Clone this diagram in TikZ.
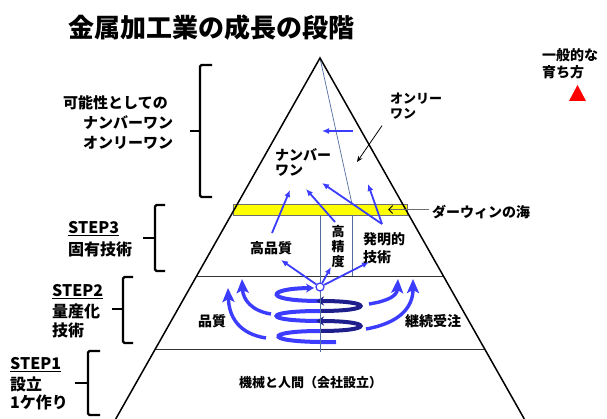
\documentclass[tikz,border=0pt]{standalone}
\usepackage{fontspec}
\setmainfont{Noto Sans CJK JP}
\usetikzlibrary{arrows.meta}
\definecolor{arrblue}{RGB}{60,60,255}
\definecolor{navytwo}{RGB}{30,30,140}
\definecolor{steel}{RGB}{80,110,160}
\definecolor{bandyellow}{RGB}{255,255,0}
\definecolor{bandgray}{RGB}{110,110,110}
\tikzset{
 lbl/.style={inner sep=0pt, anchor=west, font=\fontsize{14}{14}\selectfont\bfseries},
 lblsm/.style={inner sep=0pt, anchor=west, font=\fontsize{13}{13}\selectfont\bfseries},
 sidelbl/.style={inner sep=0pt, anchor=west, font=\fontsize{16}{16}\selectfont\bfseries},
 toplbl/.style={inner sep=0pt, anchor=west, font=\fontsize{15}{15}\selectfont\bfseries},
 brk/.style={line width=2.2pt, rounded corners=1.5pt},
 bluearr/.style={arrblue, line width=1.8pt, -{Latex[length=7pt,width=6pt]}},
 bigarr/.style={arrblue, line width=3.4pt, -{Stealth[length=14pt,width=12pt,inset=3pt]}},
 front/.style={arrblue, line width=4pt},
 back/.style={navytwo, line width=4pt},
 frontarr/.style={front, -{Stealth[length=8pt,width=9pt]}},
 backarr/.style={back, -{Stealth[length=8pt,width=9pt]}},
}
\begin{document}
\begin{tikzpicture}[x=1pt,y=-1pt]
\useasboundingbox (0,0) rectangle (607,419);
\clip (0,0) rectangle (607,419);
\fill[white] (0,0) rectangle (607,419);

% key coordinates
\coordinate (apex) at (320,58);
\coordinate (bl) at (112.3,425);
\coordinate (br) at (527.7,425);

% yellow band
\filldraw[fill=bandyellow, draw=bandgray, line width=0.8pt] (233,204) rectangle (407,215);

% inner lines
\draw[line width=0.8pt, black!80] (196.6,276) -- (443.4,276);
\draw[line width=0.8pt, black!80] (155.3,349) -- (484.7,349);
\draw[steel, line width=0.7pt] (apex) -- (352,204);
\draw[steel, line width=0.7pt] (352,215) -- (352,276);

% pyramid
\draw[line width=1.5pt] (bl) -- (apex) -- (br);

% spiral (rising coil)
\draw[front] (336,342) .. controls (262,343) and (262,331) .. (320,331);
\draw[front] (320,321) .. controls (262,321) and (262,311) .. (320,311);
\draw[frontarr] (320,301) .. controls (262,301) and (266,288.5) .. (314,288);
\draw[backarr] (320,331) .. controls (374,331) and (374,321) .. (316,321);
\draw[backarr] (320,311) .. controls (374,311) and (374,301) .. (316,301);

% side curved arrows
\draw[bigarr] (266,338) .. controls (240,334) and (229,318) .. (228,288);
\draw[bigarr] (271,314) .. controls (252,311) and (243,300) .. (242,279);
\draw[bigarr] (369,304) .. controls (388,301) and (397,296) .. (398,279);
\draw[bigarr] (366,329) .. controls (400,323) and (413,307) .. (413,279);

\draw[steel, line width=0.7pt] (320,215) -- (320,352);

% center circle and arrows from it
\coordinate (hqtip) at (281,260);
\coordinate (prtip) at (331,267);
\coordinate (ivtip) at (369,262);
\node[circle, draw=arrblue, fill=white, line width=1.2pt, minimum size=8pt, inner sep=0pt] (core) at (320,287) {};
\draw[bluearr] (core) -- (hqtip);
\draw[bluearr] (core) -- (prtip);
\draw[bluearr] (core) -- (ivtip);

% arrows up into top
\coordinate (a1s) at (272,233);
\coordinate (a1e) at (290,190);
\coordinate (a2s) at (335,222);
\coordinate (a2e) at (306,189);
\coordinate (a3s) at (382,224);
\coordinate (a3e) at (322,183);
\coordinate (a4e) at (368,184);
\coordinate (t1s) at (353,131);
\coordinate (t1e) at (322,131);
\draw[bluearr] (a1s) -- (a1e);
\draw[bluearr] (a2s) -- (a2e);
\draw[bluearr] (a3s) -- (a3e);
\draw[bluearr] (a3s) -- (a4e);
\draw[bluearr] (t1s) -- (t1e);

% title
\node[inner sep=0pt, anchor=west, font=\fontsize{26}{26}\selectfont\bfseries] (title) at (68,28) {金属加工業の成長の段階};

% general way
\node[lbl] (gen1) at (542,55) {一般的な};
\node[lbl] (gen2) at (542,72) {育ち方};
\fill[red] (569,101) -- (577.5,85) -- (586,101) -- cycle;

% top left
\node[toplbl] (pos1) at (63,103) {可能性としての};
\node[toplbl] (pos2) at (83,123) {ナンバーワン};
\node[toplbl] (pos3) at (83,143) {オンリーワン};
\draw[brk] (212,65) -- (200,65) -- (200,197) -- (212,197);
\draw[brk] (190,131) -- (200,131);

% steps
\node[sidelbl] (s3a) at (68,229) {\underline{STEP3}};
\node[sidelbl] (s3b) at (68,249) {固有技術};
\draw[brk] (165,205) -- (155,205) -- (155,271) -- (165,271);
\draw[brk] (143,238) -- (155,238);

\node[sidelbl] (s2a) at (52,292) {\underline{STEP2}};
\node[sidelbl] (s2b) at (52,311) {量産化};
\node[sidelbl] (s2c) at (52,330) {技術};
\draw[brk] (133,277) -- (123,277) -- (123,343) -- (133,343);
\draw[brk] (112,309) -- (123,309);

\node[sidelbl] (s1a) at (10,365) {\underline{STEP1}};
\node[sidelbl] (s1b) at (10,384) {設立};
\node[sidelbl] (s1c) at (10,402) {1ケ作り};
\draw[brk] (100,351) -- (88,351) -- (88,415) -- (100,415);
\draw[brk] (75,383) -- (88,383);

% pyramid labels
\node[lblsm] (only1) at (390,99) {オンリー};
\node[lblsm] (only2) at (390,114) {ワン};
\coordinate (onlytip) at (357,162);
\draw[line width=0.8pt, -{Stealth[length=6pt,width=5pt]}] (only2.south west) ++(-8,6) -- (onlytip);

\node[lbl] (num1) at (275,155) {ナンバー};
\node[lbl] (num2) at (275,171) {ワン};

\node[lbl] (darwin) at (432,212) {ダーウィンの海};
\coordinate (darwintip) at (388,209.5);
\draw[bandgray, line width=1pt, -{Straight Barb[length=4pt,width=8pt,color=black]}] (darwin.west) ++(-3,-2.5) -- (darwintip);

\node[lbl] (hq) at (250,248) {高品質};
\node[inner sep=0pt, font=\fontsize{13}{13}\selectfont\bfseries] (pr1) at (338,232) {高};
\node[inner sep=0pt, font=\fontsize{13}{13}\selectfont\bfseries] (pr2) at (338,247) {精};
\node[inner sep=0pt, font=\fontsize{13}{13}\selectfont\bfseries] (pr3) at (338,262) {度};
\node[lbl] (inv1) at (363,239) {発明的};
\node[lbl] (inv2) at (363,257) {技術};

\node[lbl] (qual) at (198,321) {品質};
\node[lbl] (cont) at (405,321) {継続受注};
\node[lblsm] (base) at (239,383) {機械と人間（会社設立）};
\end{tikzpicture}
\end{document}
